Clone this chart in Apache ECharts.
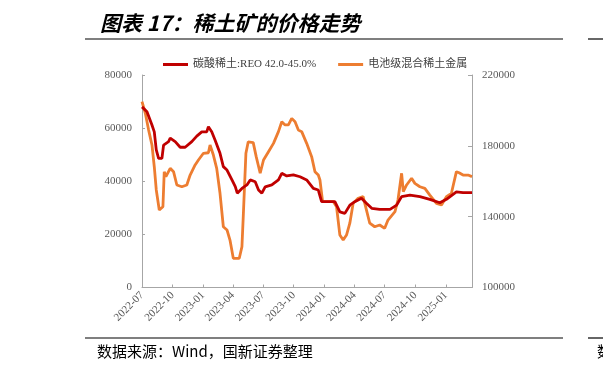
<!DOCTYPE html>
<html><head><meta charset="utf-8">
<script src="https://cdn.jsdelivr.net/npm/echarts@6/dist/echarts.min.js"></script>
<style>html,body{margin:0;padding:0;background:#fff}#c{width:603px;height:372px}</style>
</head><body><div id="c"></div>
<script>
// ---- data ----
const seriesNames = ['碳酸稀土:REO 42.0-45.0%', '电池级混合稀土金属'];
const redDates = ['2022-07-01','2022-07-16','2022-07-31','2022-08-07','2022-08-13','2022-08-20','2022-08-30','2022-09-04','2022-09-19','2022-09-24','2022-10-09','2022-10-24','2022-11-08','2022-11-28','2022-12-13','2022-12-28','2023-01-12','2023-01-17','2023-01-27','2023-02-06','2023-02-21','2023-03-03','2023-03-14','2023-03-29','2023-04-08','2023-04-14','2023-04-28','2023-05-13','2023-05-23','2023-06-07','2023-06-17','2023-06-27','2023-07-07','2023-07-27','2023-08-16','2023-08-26','2023-09-10','2023-09-30','2023-10-20','2023-11-09','2023-11-29','2023-12-14','2023-12-24','2024-02-02','2024-02-17','2024-03-03','2024-03-18','2024-04-02','2024-04-22','2024-05-07','2024-05-23','2024-06-16','2024-07-17','2024-08-06','2024-08-21','2024-09-15','2024-10-15','2024-11-14','2024-12-14','2025-01-03','2025-02-02','2025-02-22','2025-03-21'];
const redValues = [68000,66200,61200,58600,51800,48600,48600,53600,54900,56200,54900,52800,52800,54900,57000,58600,58600,60500,58600,55500,50500,45500,44200,40500,38000,35500,37300,38600,40500,39800,36700,35500,37900,38600,40500,43000,42000,42400,41700,40500,37300,36700,32300,32300,28500,27900,31000,32300,33600,31700,29800,29400,29400,31000,34200,34800,34200,33200,31900,33200,36000,35700,35700];
const orangeDates = ['2022-07-01','2022-07-11','2022-07-21','2022-07-31','2022-08-07','2022-08-13','2022-08-22','2022-08-28','2022-09-02','2022-09-06','2022-09-11','2022-09-17','2022-09-24','2022-10-04','2022-10-14','2022-10-29','2022-11-13','2022-11-23','2022-12-08','2022-12-18','2023-01-02','2023-01-17','2023-01-22','2023-02-01','2023-02-11','2023-02-21','2023-03-03','2023-03-14','2023-03-23','2023-04-02','2023-04-20','2023-04-28','2023-05-02','2023-05-10','2023-05-17','2023-06-01','2023-06-10','2023-06-22','2023-07-02','2023-07-17','2023-08-01','2023-08-16','2023-08-26','2023-09-05','2023-09-15','2023-09-25','2023-10-05','2023-10-15','2023-10-25','2023-11-09','2023-11-24','2023-12-04','2023-12-14','2023-12-19','2023-12-27','2024-01-28','2024-02-07','2024-02-17','2024-02-27','2024-03-08','2024-03-18','2024-03-28','2024-04-12','2024-04-27','2024-05-07','2024-05-17','2024-06-01','2024-06-16','2024-07-01','2024-07-11','2024-08-01','2024-08-10','2024-08-21','2024-08-26','2024-09-05','2024-09-20','2024-09-30','2024-10-15','2024-10-30','2024-11-14','2024-12-04','2024-12-19','2025-01-03','2025-01-18','2025-02-02','2025-02-10','2025-02-22','2025-03-09','2025-03-21'];
const orangeValues = [205000,198400,188900,180500,168200,155100,143800,142800,145600,165400,162600,163500,167300,165400,157900,156900,157900,163500,169200,172000,175800,176100,180500,174800,167300,153200,134300,132500,126800,116500,116500,123000,140000,175800,182300,181800,173900,164500,172000,176700,181400,188000,193600,191800,191800,195500,193600,188900,188000,181400,173900,165400,163500,160700,148500,148500,145600,129600,126800,129600,136300,147500,150400,151300,143800,136300,134300,135300,133400,138100,142800,149400,164500,154100,157900,161700,158800,156900,156000,152200,147500,146600,151300,153200,165400,164800,163500,163500,162600];
const xTickLabels = ['2022-07','2022-10','2023-01','2023-04','2023-07','2023-10','2024-01','2024-04','2024-07','2024-10','2025-01'];
const leftTicks = [0,20000,40000,60000,80000];
const rightTicks = [100000,140000,180000,220000];
const xRange = ['2022-07-01','2025-03-21'];

// ---- chart ----
const T = s => Date.UTC(+s.slice(0,4), +s.slice(5,7) - 1, s.length > 7 ? +s.slice(8,10) : 1);
const tickTimes = xTickLabels.map(T);
const zip = (d, v) => d.map((x, i) => [T(x), v[i]]);
const fmtYM = v => { const d = new Date(v); return d.getUTCFullYear() + '-' + String(d.getUTCMonth() + 1).padStart(2, '0'); };
const lblFont = "'Liberation Serif','Noto Sans CJK SC',serif";
const axisColor = '#a6a6a6';
const chart = echarts.init(document.getElementById('c'), null, {renderer: 'canvas'});
chart.setOption({
  animation: false,
  backgroundColor: '#fff',
  grid: {left: 142, right: 131, top: 75, bottom: 84.5},
  legend: {
    left: 158, top: 54, icon: 'rect', itemWidth: 25, itemHeight: 3, itemGap: 22,
    textStyle: {fontFamily: lblFont, fontSize: 11, color: '#404040'},
    data: seriesNames
  },
  xAxis: {
    type: 'value', min: T(xRange[0]), max: T(xRange[1]),
    axisLine: {lineStyle: {color: axisColor, width: 1}},
    axisTick: {inside: true, length: 3, customValues: tickTimes, lineStyle: {color: axisColor}},
    axisLabel: {customValues: tickTimes, rotate: 45, fontFamily: lblFont, fontSize: 11, color: '#595959', margin: 6,
      formatter: fmtYM},
    splitLine: {show: false}
  },
  yAxis: [
    {type: 'value', min: 0, max: 80000,
     axisLine: {show: true, lineStyle: {color: axisColor}},
     axisTick: {show: true, inside: true, length: 3, customValues: leftTicks, lineStyle: {color: axisColor}},
     axisLabel: {customValues: leftTicks, formatter: v => String(v), fontFamily: lblFont, fontSize: 11, color: '#595959', margin: 10},
     splitLine: {show: false}},
    {type: 'value', min: 100000, max: 220000, position: 'right',
     axisLine: {show: true, lineStyle: {color: axisColor}},
     axisTick: {show: true, inside: true, length: 4, customValues: rightTicks, lineStyle: {color: axisColor}},
     axisLabel: {customValues: rightTicks, formatter: v => String(v), fontFamily: lblFont, fontSize: 11, color: '#595959', margin: 10},
     splitLine: {show: false}}
  ],
  series: [
    {name: seriesNames[0], type: 'line', yAxisIndex: 0, data: zip(redDates, redValues), showSymbol: false, symbol: 'none',
     z: 3, lineStyle: {color: '#C00000', width: 2.8}, itemStyle: {color: '#C00000'}},
    {name: seriesNames[1], type: 'line', yAxisIndex: 1, data: zip(orangeDates, orangeValues), showSymbol: false, symbol: 'none',
     z: 2, lineStyle: {color: '#ED7D31', width: 2.8}, itemStyle: {color: '#ED7D31'}}
  ],
  graphic: [
    {type: 'text', left: 100, top: 13, style: {text: '图表 17：稀土矿的价格走势', font: "italic bold 21px 'Noto Sans CJK SC'", fill: '#000'}},
    {type: 'line', shape: {x1: 85, y1: 39, x2: 563, y2: 39}, style: {stroke: '#000', lineWidth: 1.2}},
    {type: 'line', shape: {x1: 588, y1: 39, x2: 603, y2: 39}, style: {stroke: '#000', lineWidth: 1.2}},
    {type: 'line', shape: {x1: 85, y1: 338, x2: 563, y2: 338}, style: {stroke: '#000', lineWidth: 1.2}},
    {type: 'line', shape: {x1: 588, y1: 338, x2: 603, y2: 338}, style: {stroke: '#000', lineWidth: 1.2}},
    {type: 'text', left: 97, top: 344, style: {text: '数据来源：Wind，国新证券整理', font: "15px 'Noto Sans CJK SC'", fill: '#000'}},
    {type: 'text', left: 597, top: 344, style: {text: '数', font: "15px 'Noto Sans CJK SC'", fill: '#000'}}
  ]
});
</script></body></html>
